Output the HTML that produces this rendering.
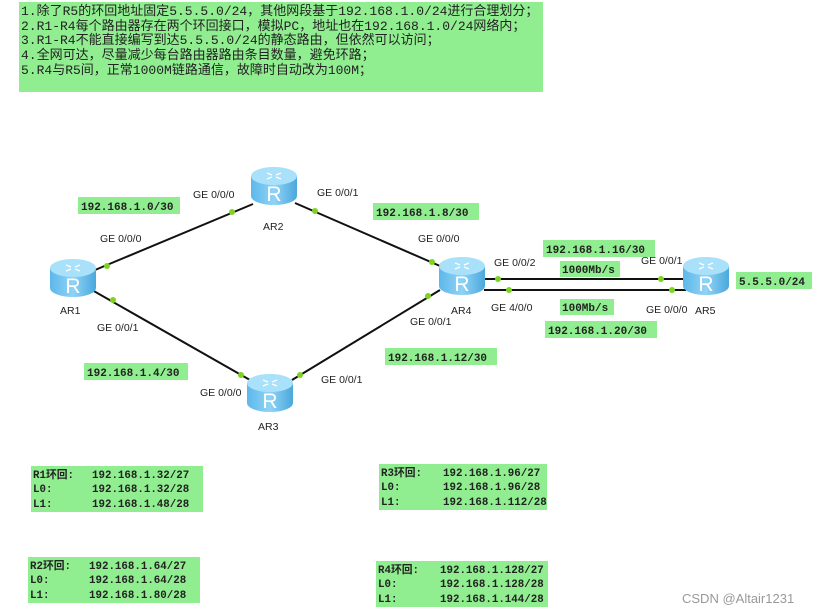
<!DOCTYPE html>
<html><head><meta charset="utf-8"><style>
body{margin:0;background:#fff;width:831px;height:614px;overflow:hidden}
svg{display:block}
.ge{font-family:"Liberation Sans",sans-serif;font-size:10.5px;fill:#222}
.g{fill:#90ee90}
.m{font-family:"Liberation Mono","Noto Sans CJK SC",monospace;font-size:11px;fill:#222;font-weight:bold}
.n{font-family:"Liberation Mono","Noto Sans CJK SC",monospace;font-size:10.8px;fill:#222;font-weight:bold}
.t{font-family:"Liberation Mono","Noto Sans CJK SC",monospace;font-size:13px;fill:#222}
</style></head><body>
<svg width="831" height="614" viewBox="0 0 831 614">
<defs>
<linearGradient id="bd" x1="0" x2="1"><stop offset="0" stop-color="#5cb8ea"/><stop offset="0.5" stop-color="#8fd3f6"/><stop offset="1" stop-color="#4aa8dc"/></linearGradient>
<g id="r">
<path d="M-23,-9 V11 A23,9 0 0 0 23,11 V-9 Z" fill="url(#bd)"/>
<ellipse cx="0" cy="-9" rx="23" ry="9" fill="#a9e1fa"/>
<text x="0" y="16" text-anchor="middle" font-family="Liberation Sans,sans-serif" font-size="21" fill="#fff">R</text>
<path d="M-7,-12 l5,2 M7,-12 l-5,2 M-7,-6 l5,-2 M7,-6 l-5,-2" stroke="#fff" stroke-width="1.3"/>
</g>
</defs>
<rect x="19" y="2" width="524" height="90" class="g"/>
<text class="t" x="21" y="15">1.除了R5的环回地址固定5.5.5.0/24，其他网段基于192.168.1.0/24进行合理划分；</text>
<text class="t" x="21" y="30">2.R1-R4每个路由器存在两个环回接口，模拟PC，地址也在192.168.1.0/24网络内；</text>
<text class="t" x="21" y="44">3.R1-R4不能直接编写到达5.5.5.0/24的静态路由，但依然可以访问；</text>
<text class="t" x="21" y="59">4.全网可达，尽量减少每台路由器路由条目数量，避免环路；</text>
<text class="t" x="21" y="74">5.R4与R5间，正常1000M链路通信，故障时自动改为100M；</text>

<g stroke="#111" stroke-width="2">
<line x1="95" y1="270" x2="253" y2="204"/>
<line x1="295" y1="203" x2="440" y2="266"/>
<line x1="92" y1="290" x2="250" y2="380"/>
<line x1="292" y1="380" x2="440" y2="290"/>
<line x1="484" y1="279" x2="686" y2="279"/>
<line x1="484" y1="290" x2="686" y2="290"/>
</g>
<g fill="#7ed321">
<circle cx="107" cy="266" r="3"/><circle cx="232" cy="212" r="3"/>
<circle cx="315" cy="211" r="3"/><circle cx="432" cy="262" r="3"/>
<circle cx="113" cy="300" r="3"/><circle cx="241" cy="375" r="3"/>
<circle cx="300" cy="375" r="3"/><circle cx="428" cy="296" r="3"/>
<circle cx="498" cy="279" r="3"/><circle cx="661" cy="279" r="3"/>
<circle cx="509" cy="290" r="3"/><circle cx="672" cy="290" r="3"/>
</g>
<use href="#r" x="73" y="277"/>
<use href="#r" x="274" y="185"/>
<use href="#r" x="270" y="392"/>
<use href="#r" x="462" y="275"/>
<use href="#r" x="706" y="275"/>
<g class="ge">
<text x="60" y="314">AR1</text><text x="263" y="230">AR2</text><text x="258" y="430">AR3</text>
<text x="451" y="314">AR4</text><text x="695" y="314">AR5</text>
<text x="100" y="242">GE 0/0/0</text><text x="193" y="198">GE 0/0/0</text>
<text x="317" y="196">GE 0/0/1</text><text x="418" y="242">GE 0/0/0</text>
<text x="97" y="331">GE 0/0/1</text><text x="200" y="396">GE 0/0/0</text>
<text x="321" y="383">GE 0/0/1</text><text x="410" y="325">GE 0/0/1</text>
<text x="494" y="266">GE 0/0/2</text><text x="491" y="311">GE 4/0/0</text>
<text x="641" y="264">GE 0/0/1</text><text x="646" y="313">GE 0/0/0</text>
</g>
<g>
<rect x="78" y="197" width="102" height="17" class="g"/><text class="m" x="81" y="210">192.168.1.0/30</text>
<rect x="373" y="203" width="106" height="17" class="g"/><text class="m" x="376" y="216">192.168.1.8/30</text>
<rect x="543" y="240" width="112" height="17" class="g"/><text class="m" x="546" y="253">192.168.1.16/30</text>
<rect x="560" y="261" width="60" height="16" class="g"/><text class="m" x="562" y="273">1000Mb/s</text>
<rect x="560" y="299" width="54" height="16" class="g"/><text class="m" x="562" y="311">100Mb/s</text>
<rect x="545" y="321" width="112" height="17" class="g"/><text class="m" x="548" y="334">192.168.1.20/30</text>
<rect x="736" y="272" width="76" height="17" class="g"/><text class="m" x="739" y="285">5.5.5.0/24</text>
<rect x="385" y="348" width="112" height="17" class="g"/><text class="m" x="388" y="361">192.168.1.12/30</text>
<rect x="84" y="363" width="104" height="17" class="g"/><text class="m" x="87" y="376">192.168.1.4/30</text>
</g>
<g>
<rect x="31" y="466" width="172" height="46" class="g"/>
<text class="n" x="33" y="478">R1环回:</text><text class="n" x="92" y="478">192.168.1.32/27</text>
<text class="n" x="33" y="492">L0:</text><text class="n" x="92" y="492">192.168.1.32/28</text>
<text class="n" x="33" y="507">L1:</text><text class="n" x="92" y="507">192.168.1.48/28</text>
<rect x="379" y="464" width="168" height="46" class="g"/>
<text class="n" x="381" y="476">R3环回:</text><text class="n" x="443" y="476">192.168.1.96/27</text>
<text class="n" x="381" y="490">L0:</text><text class="n" x="443" y="490">192.168.1.96/28</text>
<text class="n" x="381" y="505">L1:</text><text class="n" x="443" y="505">192.168.1.112/28</text>
<rect x="28" y="557" width="172" height="46" class="g"/>
<text class="n" x="30" y="569">R2环回:</text><text class="n" x="89" y="569">192.168.1.64/27</text>
<text class="n" x="30" y="583">L0:</text><text class="n" x="89" y="583">192.168.1.64/28</text>
<text class="n" x="30" y="598">L1:</text><text class="n" x="89" y="598">192.168.1.80/28</text>
<rect x="376" y="561" width="172" height="46" class="g"/>
<text class="n" x="378" y="573">R4环回:</text><text class="n" x="440" y="573">192.168.1.128/27</text>
<text class="n" x="378" y="587">L0:</text><text class="n" x="440" y="587">192.168.1.128/28</text>
<text class="n" x="378" y="602">L1:</text><text class="n" x="440" y="602">192.168.1.144/28</text>
</g>
<text x="682" y="603" font-family="Liberation Sans,sans-serif" font-size="13" fill="#999">CSDN @Altair1231</text>
</svg>
</body></html>
